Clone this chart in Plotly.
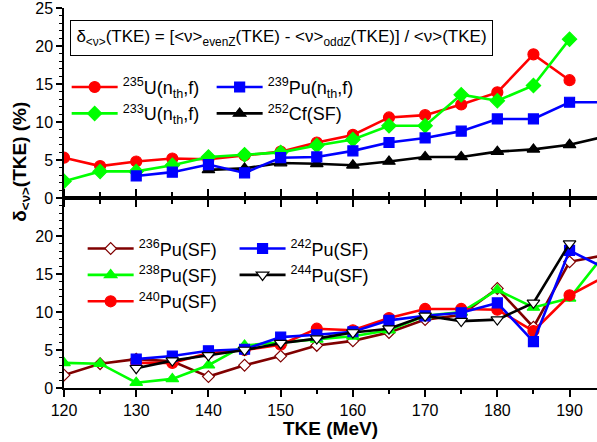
import plotly.graph_objects as go

tke = [120, 125, 130, 135, 140, 145, 150, 155, 160, 165, 170, 175, 180, 185, 190, 195]

# top panel (neutron induced and 252Cf)
u235 = [5.3, 4.2, 4.8, 5.2, 5.1, 5.6, 6.1, 7.3, 8.3, 10.6, 10.9, 12.3, 13.9, 18.9, 15.5, None]
u233 = [2.2, 3.5, 3.5, 4.3, 5.4, 5.7, 6.0, 6.9, 7.7, 9.5, 9.5, 13.6, 12.8, 14.8, 20.9, None]
pu239 = [None, None, 2.9, 3.4, 4.4, 3.3, 5.3, 5.4, 6.2, 7.3, 7.9, 8.8, 10.4, 10.4, 12.6, 12.6]
cf252 = [None, None, None, None, 3.7, 3.9, 4.6, 4.5, 4.3, 4.8, 5.4, 5.4, 6.1, 6.4, 7.0, 8.1]

# bottom panel (Pu spontaneous fission)
pu236 = [1.7, 3.2, 3.8, 3.5, 1.5, 3.0, 4.2, 5.6, 6.2, 7.3, 9.0, 9.6, 13.1, 8.0, 16.6, 17.5]
pu238 = [3.3, 3.2, 0.7, 1.2, 3.0, 5.6, 6.0, 6.4, 6.8, 7.6, 9.5, 10.0, 12.9, 10.6, 11.8, 17.8]
pu240 = [None, None, 3.3, 3.3, 4.6, 5.0, 5.7, 7.8, 7.6, 9.2, 10.4, 10.4, 10.3, 7.5, 12.2, 14.7]
pu242 = [None, None, 3.8, 4.2, 4.9, 5.1, 6.7, 7.0, 7.4, 8.9, 9.5, 9.9, 11.2, 6.1, 18.1, 15.7]
pu244 = [None, None, 2.6, 3.6, 4.3, 5.0, 5.9, 6.5, 7.3, 7.8, 9.5, 8.8, 9.0, 11.2, 19.0, None]

FONT = "Liberation Sans, Arial, sans-serif"
LW = 2.6

fig = go.Figure()

def add(y, name, color, symbol, xa, ya, legend, rank, fill=None, size=10):
    fig.add_trace(go.Scatter(
        x=tke, y=y, name=name, mode="lines+markers",
        line=dict(color=color, width=LW),
        marker=dict(symbol=symbol, size=size, color=fill if fill else color,
                    line=dict(color=color, width=1.2)),
        xaxis=xa, yaxis=ya, legend=legend, legendrank=rank, connectgaps=False,
    ))

add(u235, "<sup>235</sup>U(n<sub>th</sub>,f)", "#ff0000", "circle", "x", "y", "legend", 1, size=11)
add(u233, "<sup>233</sup>U(n<sub>th</sub>,f)", "#00ff00", "diamond", "x", "y", "legend", 2, size=11)
add(cf252, "<sup>252</sup>Cf(SF)", "#000000", "triangle-up", "x", "y", "legend2", 2, size=11)
add(pu239, "<sup>239</sup>Pu(n<sub>th</sub>,f)", "#0000ff", "square", "x", "y", "legend2", 1, size=10)

add(pu236, "<sup>236</sup>Pu(SF)", "#800000", "diamond", "x2", "y2", "legend3", 1, fill="#ffffff", size=9)
add(pu238, "<sup>238</sup>Pu(SF)", "#00ff00", "triangle-up", "x2", "y2", "legend3", 2, size=11)
add(pu240, "<sup>240</sup>Pu(SF)", "#ff0000", "circle", "x2", "y2", "legend3", 3, size=11)
add(pu242, "<sup>242</sup>Pu(SF)", "#0000ff", "square", "x2", "y2", "legend4", 1, size=10)
add(pu244, "<sup>244</sup>Pu(SF)", "#000000", "triangle-down", "x2", "y2", "legend4", 2, fill="#ffffff", size=11)

XR = [120, 193.8]
axcommon = dict(showline=True, linecolor="black", linewidth=1.5, showgrid=False, zeroline=False,
                tickcolor="black", tickwidth=1.5, ticklabeloverflow="allow",
                tickfont=dict(family=FONT, size=16, color="black"))

fig.update_layout(
    width=597, height=442,
    margin=dict(l=64, r=0, t=5, b=54),
    paper_bgcolor="white", plot_bgcolor="white",
    font=dict(family=FONT, color="black"),
    xaxis=dict(domain=[0, 1], anchor="y", range=XR, ticks="outside", ticklen=7, dtick=10, tick0=120,
               showticklabels=False, minor=dict(dtick=5, ticks="outside", ticklen=4, tickcolor="black", tickwidth=1.5),
               **axcommon),
    xaxis3=dict(overlaying="x", side="top", anchor="y", range=XR, ticks="inside", ticklen=7, dtick=10, tick0=120,
                showticklabels=False, minor=dict(dtick=5, ticks="inside", ticklen=4, tickcolor="black", tickwidth=1.5),
                **axcommon),
    yaxis=dict(domain=[0.5, 1], anchor="x", range=[0, 25], ticks="outside", ticklen=6, dtick=5,
               tickvals=[0, 5, 10, 15, 20, 25],
               minor=dict(dtick=1, ticks="outside", ticklen=3, tickcolor="black", tickwidth=1.2),
               **axcommon),
    xaxis2=dict(domain=[0, 1], anchor="y2", range=XR, ticks="outside", ticklen=7, dtick=10, tick0=120,
                mirror="allticks", minor=dict(dtick=5, ticks="outside", ticklen=4, tickcolor="black", tickwidth=1.5),
                **axcommon),
    yaxis2=dict(domain=[0, 0.5], anchor="x2", range=[0, 25], ticks="outside", ticklen=6,
                tickvals=[0, 5, 10, 15, 20],
                minor=dict(dtick=1, ticks="outside", ticklen=3, tickcolor="black", tickwidth=1.2),
                **axcommon),
)

legfont = dict(family=FONT, size=18, color="black")
def leg(x, y):
    return dict(x=x, y=y, xanchor="left", yanchor="top", bgcolor="rgba(0,0,0,0)",
                font=legfont, itemwidth=46, tracegroupgap=0, orientation="v")

fig.update_layout(
    legend=leg(0.005, 0.84),
    legend2=leg(0.277, 0.84),
    legend3=leg(0.035, 0.415),
    legend4=leg(0.32, 0.415),
)

fig.add_annotation(
    text="δ<sub>&lt;ν&gt;</sub>(TKE) = [&lt;ν&gt;<sub>evenZ</sub>(TKE) - &lt;ν&gt;<sub>oddZ</sub>(TKE)] / &lt;ν&gt;(TKE)",
    xref="paper", yref="paper", x=(281 - 64) / 533, y=(388.3 - 35.5) / 383.3,
    xanchor="center", yanchor="middle", showarrow=False,
    font=dict(family=FONT, size=17, color="black"),
    bordercolor="black", borderwidth=1, borderpad=2, width=417, height=30, bgcolor="white",
)
fig.add_annotation(
    text="<b>δ<sub>&lt;ν&gt;</sub>(TKE) (%)</b>", textangle=-90,
    xref="paper", yref="paper", x=(21 - 64) / 533, y=(388.3 - 160) / 383.3,
    xanchor="center", yanchor="middle", showarrow=False,
    font=dict(family=FONT, size=19, color="black"),
)
fig.add_annotation(
    text="<b>TKE (MeV)</b>",
    xref="paper", yref="paper", x=(330 - 64) / 533, y=(388.3 - 429) / 383.3,
    xanchor="center", yanchor="middle", showarrow=False,
    font=dict(family=FONT, size=19, color="black"),
)

fig.write_html("out.html", config={"displayModeBar": False},
               post_script="document.body.style.margin='0';")
